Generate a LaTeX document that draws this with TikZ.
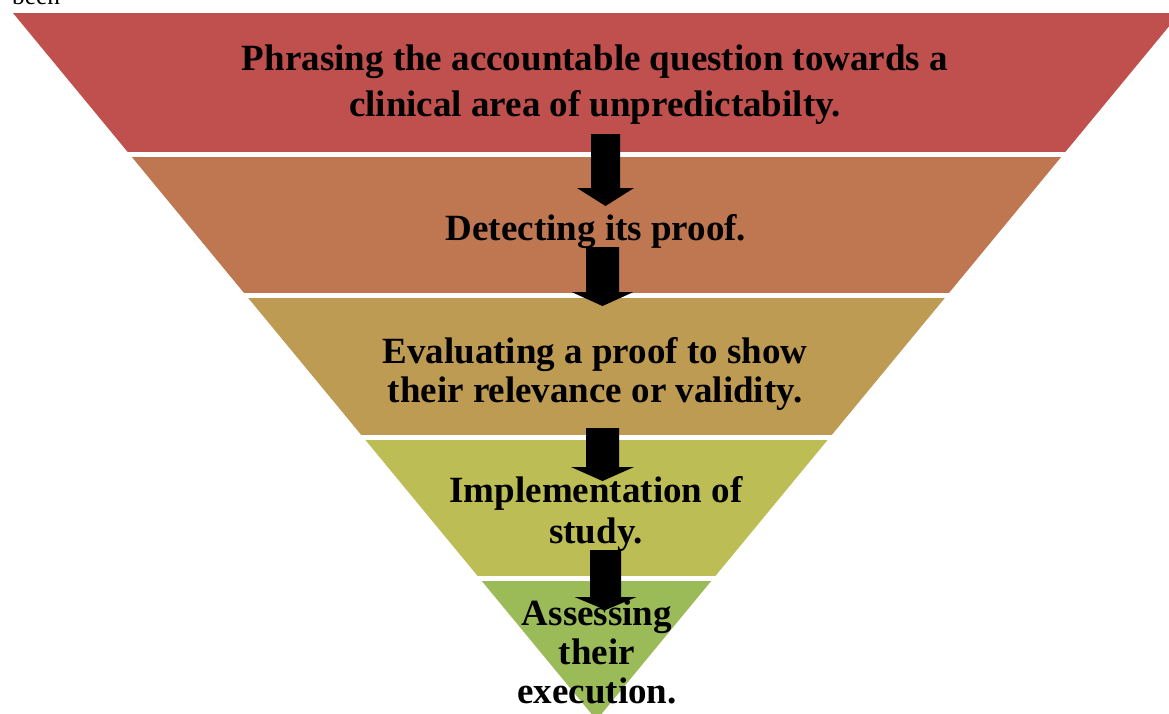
\documentclass[tikz,border=0pt]{standalone}
\usepackage{fontspec}
\setmainfont{Liberation Serif}
\begin{document}
\begin{tikzpicture}[x=1pt,y=-1pt,
  label/.style={font=\fontsize{37}{41}\selectfont\bfseries,align=center,anchor=base,inner sep=0pt},
  blockarrow/.style={fill=black,draw=none}]
\useasboundingbox (0,0) rectangle (1169,713);
\definecolor{bandA}{HTML}{C0504D}
\definecolor{bandB}{HTML}{BE7750}
\definecolor{bandC}{HTML}{BE9B53}
\definecolor{bandD}{HTML}{BCBD55}
\definecolor{bandE}{HTML}{9BBB59}
% funnel corners and the level boundaries
\coordinate (tl) at (13,13);
\coordinate (tr) at (1180,13);
\coordinate (apex) at (596.5,720);
\foreach \k/\y in {1/154.4,2/295.8,3/437.2,4/578.6}{
  \pgfmathsetmacro{\dx}{0.825318*(\y-13)}
  \coordinate (L\k) at (13+\dx,\y);
  \coordinate (R\k) at (1180-\dx,\y);
}
% the five bands
\fill[bandA] (tl) -- (tr) -- (R1) -- (L1) -- cycle;
\fill[bandB] (L1) -- (R1) -- (R2) -- (L2) -- cycle;
\fill[bandC] (L2) -- (R2) -- (R3) -- (L3) -- cycle;
\fill[bandD] (L3) -- (R3) -- (R4) -- (L4) -- cycle;
\fill[bandE] (L4) -- (R4) -- (apex) -- cycle;
% white seams between bands
\foreach \k in {1,2,3,4}{
  \draw[white,line width=5pt] ([xshift=-10pt]L\k) -- ([xshift=10pt]R\k);
}
% block arrows: centre x, shaft half width, top, head y, head half width, tip
\foreach \cx/\sw/\ty/\hy/\hw/\tip in {605.5/14.5/134/188/28.5/206,602.5/16.5/247/292/31/306,602.5/16.5/428/467/31.5/481,605.5/15.5/550/597/31/610}{
  \fill[blockarrow] (\cx-\sw,\ty) -- (\cx+\sw,\ty) -- (\cx+\sw,\hy) -- (\cx+\hw,\hy)
    -- (\cx,\tip) -- (\cx-\hw,\hy) -- (\cx-\sw,\hy) -- cycle;
}
% labels (anchored at the baseline of their last line)
\node[label,font=\fontsize{37}{46}\selectfont\bfseries] (t1) at (595,116)
  {Phrasing the accountable question towards a\\clinical area of unpredictabilty.};
\node[label] (t2) at (596,240) {Detecting its proof.};
\node[label,font=\fontsize{37}{39}\selectfont\bfseries] (t3) at (595,402)
  {Evaluating a proof to show\\their relevance or validity.};
\node[label] (t4) at (596,543) {Implementation of\\study.};
\node[label,font=\fontsize{37}{39}\selectfont\bfseries] (t5) at (597,703)
  {Assessing\\their\\execution.};
\node[font=\fontsize{25.4}{30}\selectfont,anchor=base west,inner sep=0pt] (note) at (12,4) {been};
\end{tikzpicture}
\end{document}
